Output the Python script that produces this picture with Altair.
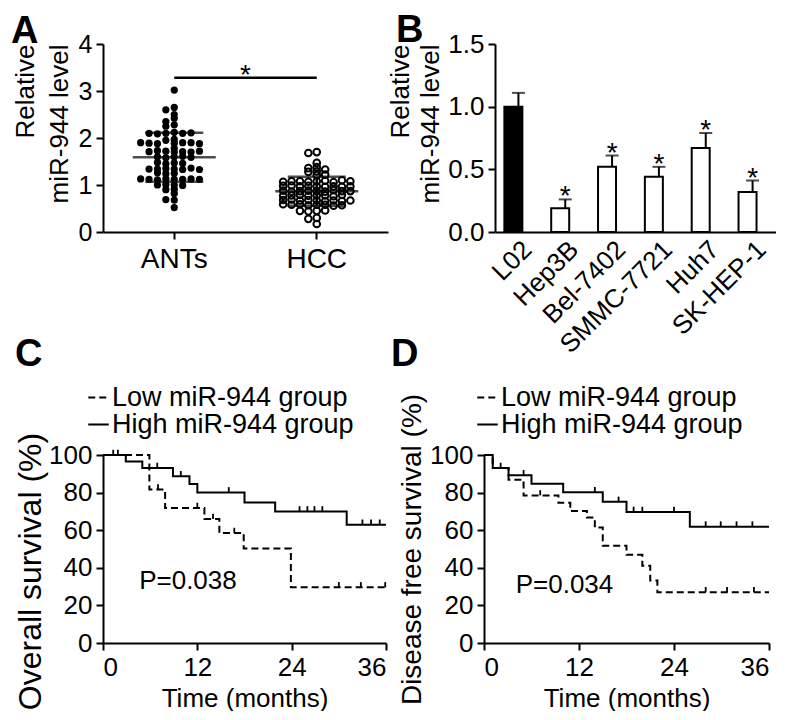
import altair as alt
import pandas as pd

FONT = "Liberation Sans"

# ---------------- Panel A data ----------------
ants = [3.02, 2.65, 2.60, 2.50, 2.42, 2.35, 2.28, 2.25,
        2.12, 2.10, 2.10, 2.09, 2.11, 2.10, 1.97, 1.95,
        1.90, 1.89, 1.88, 1.90, 1.89, 1.88, 1.90, 1.78,
        1.72, 1.70, 1.71, 1.73, 1.70, 1.71, 1.72,
        1.60, 1.58, 1.61, 1.60, 1.59, 1.47, 1.45, 1.46, 1.48,
        1.34, 1.35, 1.33, 1.34, 1.36, 1.34, 1.33, 1.25, 1.24, 1.26,
        1.12, 1.13, 1.12, 1.11, 1.13, 1.12, 1.12, 1.13,
        1.00, 1.01, 0.99, 1.00, 0.91, 0.90, 0.82, 0.68, 0.69, 0.52]
hcc = [1.70, 1.68, 1.47, 1.38, 1.36, 1.33, 1.29, 1.28, 1.22, 1.21,
       1.08, 1.07, 1.09, 1.08, 1.06, 1.08, 1.10, 1.07, 1.08,
       0.97, 0.98, 0.96, 0.97, 0.99, 0.97, 0.96, 0.98, 0.97,
       0.87, 0.88, 0.86, 0.87, 0.89, 0.86, 0.87, 0.88, 0.87,
       0.78, 0.77, 0.79, 0.78, 0.76, 0.78, 0.79, 0.77,
       0.67, 0.68, 0.66, 0.67, 0.69, 0.67, 0.66, 0.68, 0.67,
       0.58, 0.57, 0.59, 0.58, 0.56, 0.58, 0.59, 0.57,
       0.45, 0.44, 0.46, 0.45, 0.30, 0.28, 0.17]
groups_a = ["ANTs", "HCC"]
sig_a_y = [3.28]

# ---------------- Panel B data ----------------
cells = ["L02", "Hep3B", "Bel-7402", "SMMC-7721", "Huh7", "SK-HEP-1"]
levels = [1.00, 0.19, 0.52, 0.44, 0.67, 0.32]
errs = [0.11, 0.07, 0.09, 0.08, 0.12, 0.09]
stars_b = ["", "*", "*", "*", "*", "*"]

# ---------------- Panel C data ----------------
LOW, HIGH = "Low miR-944 group", "High miR-944 group"
c_high_t = [0, 2.9, 5.0, 8.9, 11.0, 12.0, 18.0, 21.9, 31.0, 36]
c_high_s = [100, 96.6, 93.1, 88.7, 84.6, 80.1, 74.8, 70.0, 62.9, 62.9]
c_high_cens = [1.3, 1.9, 6.9, 9.9, 16.0, 25.0, 26.0, 26.9, 27.9, 33.0, 34.1, 35.2]
c_low_t = [0, 5.9, 7.9, 12.9, 14.8, 17.9, 23.9, 36]
c_low_s = [100, 81.6, 71.8, 66.0, 58.5, 50.2, 29.6, 29.6]
c_low_cens = [7.0, 12.0, 14.0, 16.7, 30.0, 32.8, 35.9]
c_p = ["P=0.038"]
c_p_pos = [4.6, 33]

# ---------------- Panel D data ----------------
d_high_t = [0, 1.1, 3.1, 6.0, 10.0, 15.0, 18.0, 26.0, 36]
d_high_s = [100, 93.1, 89.2, 84.7, 80.2, 75.1, 69.7, 61.9, 61.9]
d_high_cens = [2.1, 5.0, 14.0, 17.0, 18.9, 20.0, 24.0, 28.0, 29.9, 31.9, 33.9]
d_low_t = [0, 1.1, 3.1, 5.0, 9.4, 10.9, 13.0, 14.0, 15.0, 18.0, 20.0, 21.0, 21.9, 36]
d_low_s = [100, 93.1, 86.9, 78.5, 74.6, 70.2, 66.7, 61.4, 51.7, 46.9, 41.1, 33.2, 27.0, 27.0]
d_low_cens = [7.1, 28.0, 30.7, 34.1]
d_p = ["P=0.034"]
d_p_pos = [4.0, 31]


# ---------------- Panel A ----------------
WA, HA = 285, 188
PX_PER_UNIT = HA / 4.0
SLOT_PX = 8.4
COLLIDE_PX = 3.5


def swarm_slots(values):
    placed = []
    slots = []
    order = [0]
    for i in range(1, 30):
        order += [-i, i]
    for v in values:
        y = v * PX_PER_UNIT
        for s in order:
            if all(not (ps == s and abs(py - y) < COLLIDE_PX) for ps, py in placed):
                break
        placed.append((s, y))
        slots.append(s)
    return slots


rows = []
for g, vals in zip(groups_a, [ants, hcc]):
    for v, s in zip(vals, swarm_slots(vals)):
        rows.append({"group": g, "value": v, "slot": s})
df_a = pd.DataFrame(rows)

bw = WA / 2.0
half = bw / 2.0 / SLOT_PX

scale_xa = alt.Scale(domain=groups_a, paddingInner=0, paddingOuter=0)
axis_xa = alt.Axis(title=None, labelAngle=0, labelFontSize=28, labelPadding=6)
scale_ya = alt.Scale(domain=[0, 4])
axis_ya = alt.Axis(values=[0, 1, 2, 3, 4], title=["Relative", "miR-944 level"],
                   titleAnchor="end", titleAlign="right", titleLineHeight=34, labelFontSize=25,
                   titlePadding=6)


def xa(field, **kw):
    return alt.X(field, sort=groups_a, scale=scale_xa, axis=axis_xa, **kw)


def ya(field):
    return alt.Y(field, scale=scale_ya, axis=axis_ya)


xoff = alt.XOffset("slot:Q", scale=alt.Scale(domain=[-half, half], range=[0, bw]))

dots_ants = alt.Chart(df_a).transform_filter(alt.datum.group == "ANTs").mark_point(
    filled=True, size=52, color="black", opacity=1
).encode(x=xa("group:N"), y=ya("value:Q"), xOffset=xoff)
dots_hcc = alt.Chart(df_a).transform_filter(alt.datum.group == "HCC").mark_point(
    filled=False, size=44, color="black", strokeWidth=2, opacity=1
).encode(x=xa("group:N"), y=ya("value:Q"), xOffset=xoff)

stats = alt.Chart(df_a).transform_aggregate(
    m="mean(value)", sd="stdev(value)", groupby=["group"]
).transform_calculate(hi="datum.m + datum.sd", lo="datum.m - datum.sd")

mean_tick = stats.mark_tick(color="black", thickness=2.5, size=83, orient="horizontal").encode(
    x=xa("group:N"), y=ya("m:Q"))
sd_rule = stats.mark_rule(color="black", strokeWidth=2.5).encode(
    x=xa("group:N"), y=ya("lo:Q"), y2="hi:Q")
sd_caps = stats.transform_fold(["hi", "lo"], as_=["k", "v"]).mark_tick(
    color="black", thickness=2.5, size=58, orient="horizontal").encode(
    x=xa("group:N"), y=ya("v:Q"))

df_sig = pd.DataFrame({"a": [groups_a[0]], "b": [groups_a[1]], "y": sig_a_y, "t": ["*"]})
sig_rule = alt.Chart(df_sig).mark_rule(color="black", strokeWidth=2.5).encode(
    x=xa("a:N", bandPosition=0.5), x2=alt.X2("b:N", bandPosition=0.5), y=ya("y:Q"))
sig_star = alt.Chart(df_sig).mark_text(fontSize=28, font=FONT, color="black", baseline="alphabetic", dy=6).encode(
    x=xa("b:N", bandPosition=0), y=ya("y:Q"), text="t:N")

LETTER = dict(anchor="start", frame="group", fontSize=38, fontWeight="bold", offset=4)

panel_a = alt.layer(dots_ants, dots_hcc, sd_rule, sd_caps, mean_tick, sig_rule, sig_star).properties(
    width=WA, height=HA,
    title=alt.TitleParams("A", dx=-92, dy=23, **LETTER))

# ---------------- Panel B ----------------
WB, HB = 281, 188
df_b = pd.DataFrame({"cell": cells, "level": levels, "err": errs, "star": stars_b})
df_b["top"] = df_b["level"] + df_b["err"]
scale_xb = alt.Scale(domain=cells, paddingInner=0.4, paddingOuter=0.2)
axis_xb = alt.Axis(title=None, labelAngle=-45, labelFontSize=26, tickSize=0, labelPadding=4)
scale_yb = alt.Scale(domain=[0, 1.5])
axis_yb = alt.Axis(values=[0, 0.5, 1.0, 1.5], format=".1f", title=["Relative", "miR-944 level"],
                   titleAnchor="end", titleAlign="right", titleLineHeight=30, labelFontSize=26)


def xb():
    return alt.X("cell:N", sort=cells, scale=scale_xb, axis=axis_xb)


def yb(field):
    return alt.Y(field, scale=scale_yb, axis=axis_yb)


base_b = alt.Chart(df_b)
bars = base_b.mark_bar(stroke="black", strokeWidth=2).encode(
    x=xb(), y=yb("level:Q"),
    fill=alt.condition(alt.datum.cell == "L02", alt.value("black"), alt.value("white")))
err_rule = base_b.mark_rule(color="black", strokeWidth=2).encode(
    x=xb(), y=yb("level:Q"), y2="top:Q")
err_cap = base_b.mark_tick(color="black", thickness=2, size=13, orient="horizontal").encode(
    x=xb(), y=yb("top:Q"))
star_b = base_b.mark_text(fontSize=28, font=FONT, color="black", baseline="alphabetic", dy=6).encode(
    x=xb(), y=yb("top:Q"), text="star:N")
panel_b = alt.layer(bars, err_rule, err_cap, star_b).properties(
    width=WB, height=HB,
    title=alt.TitleParams("B", dx=-99, dy=23, **LETTER))


# ---------------- Panels C & D ----------------
def step_value(ts, ss, t):
    val = ss[0]
    for ti, si in zip(ts, ss):
        if ti <= t:
            val = si
    return val


def km_panel(high_t, high_s, high_cens, low_t, low_s, low_cens, ptext, ppos,
             ytitle, ytitle_size, letter, width, legend_x, letter_dx, title_y=None, title_pad=4):
    lines = pd.DataFrame(
        [{"t": t, "s": s, "grp": HIGH} for t, s in zip(high_t, high_s)] +
        [{"t": t, "s": s, "grp": LOW} for t, s in zip(low_t, low_s)])
    cens = pd.DataFrame(
        [{"t": t, "s": step_value(high_t, high_s, t), "grp": HIGH} for t in high_cens] +
        [{"t": t, "s": step_value(low_t, low_s, t), "grp": LOW} for t in low_cens])
    ptxt = pd.DataFrame({"t": [ppos[0]], "s": [ppos[1]], "label": ptext})

    y_axis_kw = dict(values=[0, 20, 40, 60, 80, 100], title=ytitle, titleFontSize=ytitle_size,
                     labelFontSize=26, titlePadding=title_pad)
    if title_y is not None:
        y_axis_kw["titleY"] = title_y
    sx = alt.Scale(domain=[0, 36], nice=False)
    sy = alt.Scale(domain=[0, 100], nice=False)
    ax = alt.Axis(values=[0, 12, 24, 36], title="Time (months)", labelFontSize=26,
                  titleFontSize=26, titlePadding=5)
    ay = alt.Axis(**y_axis_kw)
    xk = alt.X("t:Q", scale=sx, axis=ax)
    yk = alt.Y("s:Q", scale=sy, axis=ay)

    line = alt.Chart(lines).mark_line(interpolate="step-after", color="black", strokeWidth=2).encode(
        x=xk, y=yk,
        strokeDash=alt.StrokeDash("grp:N", sort=[LOW, HIGH],
                                  scale=alt.Scale(domain=[LOW, HIGH], range=[[7, 4], [1, 0]]),
                                  legend=alt.Legend(title=None, orient="none", legendX=legend_x, legendY=-71,
                                                    labelFontSize=27, labelFont=FONT, labelColor="black",
                                                    symbolType="stroke", symbolSize=420,
                                                    symbolStrokeWidth=2, symbolStrokeColor="black",
                                                    labelLimit=0, rowPadding=-8, labelOffset=0)))
    ticks = alt.Chart(cens).mark_point(shape="M0,0L0,-1", size=110, filled=False, strokeWidth=1.8,
                                       color="black", opacity=1).encode(x=xk, y=yk)
    ptext_mark = alt.Chart(ptxt).mark_text(align="left", baseline="middle", fontSize=26, font=FONT,
                                           color="black").encode(x=xk, y=yk, text="label:N")
    return alt.layer(line, ticks, ptext_mark).properties(
        width=width, height=188,
        title=alt.TitleParams(letter, dx=letter_dx, dy=-6, **LETTER))


panel_c = km_panel(c_high_t, c_high_s, c_high_cens, c_low_t, c_low_s, c_low_cens, c_p, c_p_pos,
                   "Overall survival (%)", 32, "C", 283, -18, -88, title_y=116, title_pad=1)
panel_d = km_panel(d_high_t, d_high_s, d_high_cens, d_low_t, d_low_s, d_low_cens, d_p, d_p_pos,
                   "Disease free survival (%)", 28, "D", 285, -10, -93, title_pad=3)

top = alt.hconcat(panel_a, panel_b, spacing=107, bounds="flush")
bottom = alt.hconcat(panel_c, panel_d, spacing=98, bounds="flush").resolve_legend(strokeDash="independent")
chart = alt.vconcat(top, bottom, spacing=411, bounds="flush").resolve_legend(
    strokeDash="independent"
).properties(
    padding={"left": 3, "top": 4, "right": 0, "bottom": 0}
).configure_view(stroke=None).configure_axis(
    domainColor="black", domainWidth=2, tickColor="black", tickWidth=2, tickSize=7,
    labelColor="black", titleColor="black", labelFont=FONT, titleFont=FONT,
    titleFontSize=26, titleFontWeight="normal", grid=False, labelPadding=4
).configure_title(font=FONT, color="black").configure_text(font=FONT)

chart.save("out.html", embed_options={"renderer": "svg", "actions": False})
